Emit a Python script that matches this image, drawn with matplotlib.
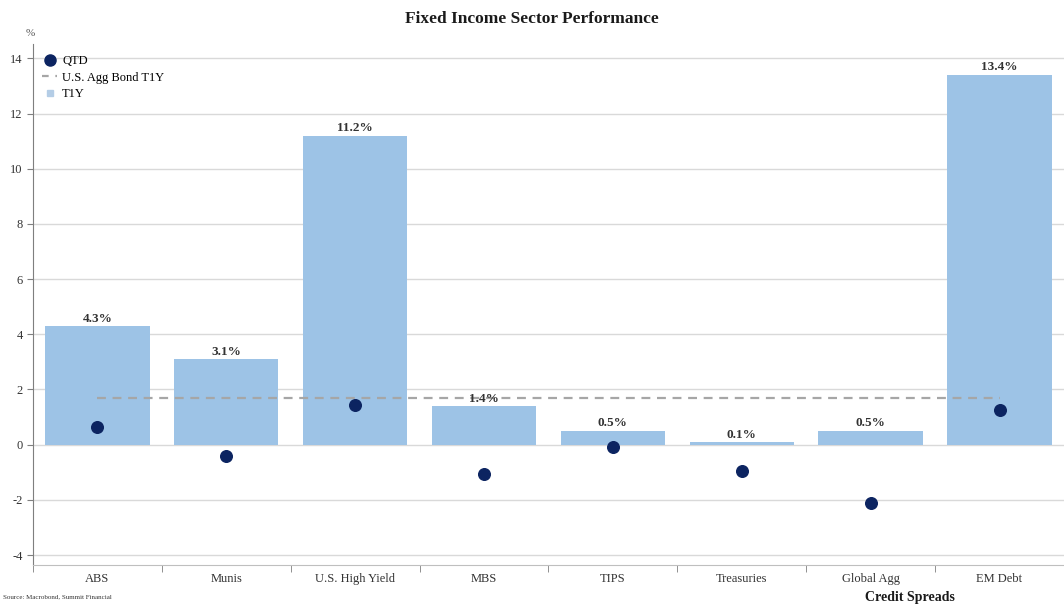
import matplotlib.pyplot as plt
from matplotlib.lines import Line2D
import numpy as np

plt.rcParams['font.family'] = ['Liberation Serif', 'DejaVu Serif']
plt.rcParams['axes.unicode_minus'] = False

sectors = ['ABS', 'Munis', 'U.S. High Yield', 'MBS', 'TIPS', 'Treasuries', 'Global Agg', 'EM Debt']
t1y = [4.3, 3.1, 11.2, 1.4, 0.5, 0.1, 0.5, 13.4]
qtd = [0.65, -0.4, 1.45, -1.05, -0.1, -0.95, -2.1, 1.25]
agg_t1y = 1.7

bar_color = '#9dc3e6'
dot_color = '#0c2461'
line_color = '#a6a6a6'

fig = plt.figure(figsize=(10.64, 6.04), dpi=100, facecolor='white')
ax = fig.add_axes([0.031, 0.0646, 0.969, 0.8626])

x = np.arange(len(sectors))
ax.bar(x, t1y, width=0.81, color=bar_color, zorder=2)
ax.plot([x[0], x[-1]], [agg_t1y, agg_t1y], color=line_color, lw=1.6,
        ls=(0, (4, 3)), zorder=3)
ax.scatter(x, qtd, s=70, color=dot_color, zorder=4)

# value labels on top of the bars
for xi, v in zip(x, t1y):
    ax.text(xi, v + 0.05, f'{v:.1f}%', ha='center', va='bottom',
            fontsize=9.5, fontweight='bold', color='#333333', zorder=5)

ax.set_xlim(-0.5, len(sectors) - 0.5)
ax.set_ylim(-4.36, 14.52)
ax.set_yticks(np.arange(-4, 15, 2))
ax.yaxis.grid(True, color='#d9d9d9', lw=1, zorder=0)
ax.set_axisbelow(True)

ax.set_xticks(x)
ax.set_xticklabels(sectors, fontsize=9, color='#333333')
ax.set_xticks(np.arange(-0.5, len(sectors), 1), minor=True)
ax.tick_params(axis='x', which='major', length=0, pad=6)
ax.tick_params(axis='x', which='minor', length=5, color='#7f7f7f', direction='out')
ax.tick_params(axis='y', length=4, color='#7f7f7f', labelsize=9, labelcolor='#333333')

for side in ['top', 'right']:
    ax.spines[side].set_visible(False)
ax.spines['left'].set_color('#7f7f7f')
ax.spines['bottom'].set_color('#bfbfbf')

ax.text(-0.52, 14.75, '%', fontsize=8, color='#555555', ha='center', va='bottom')

handles = [
    Line2D([], [], ls='none', marker='o', ms=8, color=dot_color),
    Line2D([], [], color=line_color, lw=1.6, ls=(0, (3, 3))),
    Line2D([], [], ls='none', marker='s', ms=5, color='#b4cde6'),
]
ax.legend(handles, ['QTD', 'U.S. Agg Bond T1Y', 'T1Y'],
          loc='upper left', bbox_to_anchor=(-0.002, 1.0), frameon=False,
          fontsize=9, handlelength=1.2, handletextpad=0.4, labelspacing=0.35)

fig.text(0.5, 0.968, 'Fixed Income Sector Performance', ha='center', va='center',
         fontsize=12.5, fontweight='bold', color='#1a1a1a')
fig.text(0.003, 0.008, 'Source: Macrobond, Summit Financial', fontsize=5,
         color='#333333', ha='left', va='bottom')
fig.text(0.813, 0.0, 'Credit Spreads', fontsize=10, fontweight='bold',
         color='#1a1a1a', ha='left', va='bottom')

plt.savefig('out.png', dpi=100, facecolor='white')
plt.close()
